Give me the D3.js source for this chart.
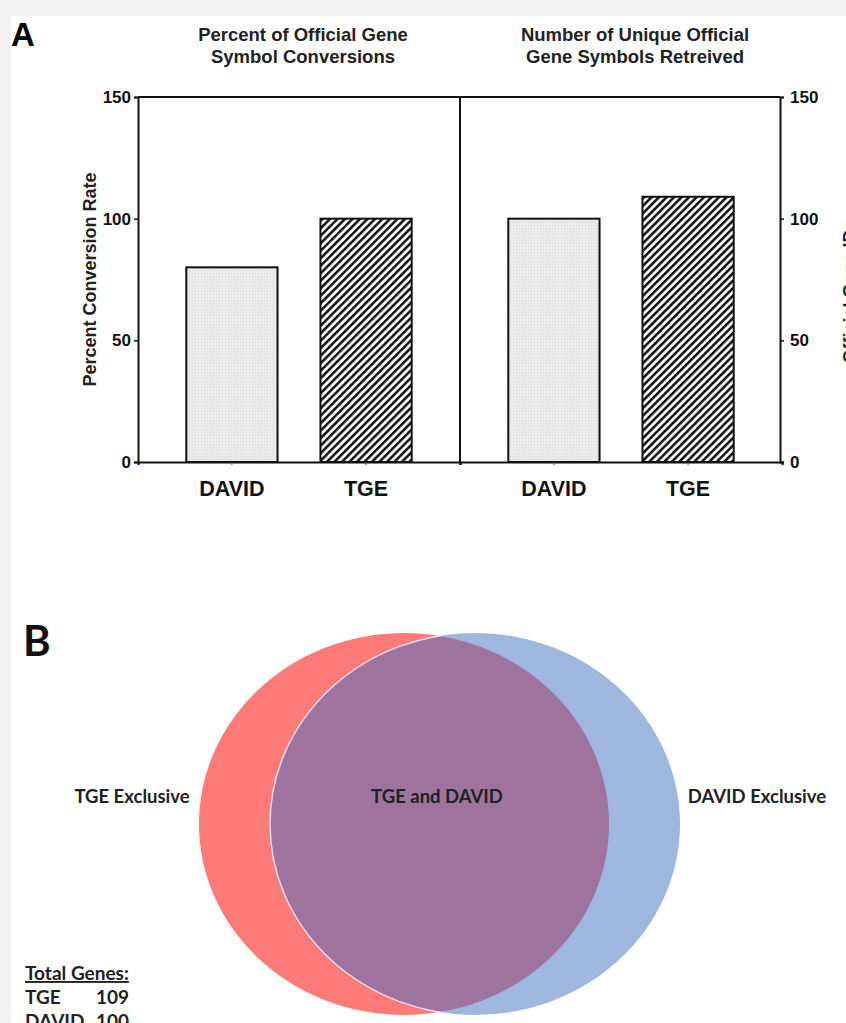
<!DOCTYPE html>
<html>
<head>
<meta charset="utf-8">
<script src="https://cdn.jsdelivr.net/npm/d3@7"></script>
<style>
  body { margin: 0; background: #f2f2f2; }
  svg { display: block; }
</style>
</head>
<body>
<script>
// chart data
var categories = ["DAVID", "TGE"];
var percentConversion = [80, 100];     // left panel, % conversion rate
var uniqueSymbols = [100, 109];        // right panel, number of official gene symbols
var yTicks = [0, 50, 100, 150];

var vennSets = ["TGE", "DAVID"];
var vennTotals = [109, 100];
var vennLabels = ["TGE Exclusive", "TGE and DAVID", "DAVID Exclusive"];

var full_width = 846, full_height = 1023;

var svg = d3.select("body").append("svg")
  .attr("width", full_width)
  .attr("height", full_height);

// white sheet
svg.append("rect")
  .attr("x", 11).attr("y", 16)
  .attr("width", full_width - 11).attr("height", full_height - 16)
  .attr("fill", "#fff");

var defs = svg.append("defs");

// light dotted fill for DAVID
var dots = defs.append("pattern")
  .attr("id", "dots")
  .attr("patternUnits", "userSpaceOnUse")
  .attr("width", 3).attr("height", 3);
dots.append("rect").attr("width", 3).attr("height", 3).attr("fill", "#ebebeb");
dots.append("rect").attr("width", 1).attr("height", 1).attr("fill", "#d6d6d6");

// diagonal hatch for TGE
var hatch = defs.append("pattern")
  .attr("id", "hatch")
  .attr("patternUnits", "userSpaceOnUse")
  .attr("width", 5.3).attr("height", 10)
  .attr("patternTransform", "rotate(45)");
hatch.append("rect").attr("width", 5.3).attr("height", 10).attr("fill", "#fff");
hatch.append("rect").attr("width", 2.5).attr("height", 10).attr("fill", "#111");

var fills = {"DAVID": "url(#dots)", "TGE": "url(#hatch)"};

// ---------- Panel A ----------
var fontA = "'Liberation Sans', Arial, sans-serif";
var plotTop = 97, plotBottom = 462;
var leftX = 138, midX = 460, rightX = 780;

var y = d3.scaleLinear().domain([0, 150]).range([plotBottom, plotTop]);

var xLeft = d3.scaleBand().domain(categories).range([leftX, midX])
  .paddingInner(0.32).paddingOuter(0.36);
var xRight = d3.scaleBand().domain(categories).range([midX, rightX + 2])
  .paddingInner(0.32).paddingOuter(0.36);

var panelA = svg.append("g").style("font-family", fontA);

panelA.append("text")
  .attr("x", 11).attr("y", 46)
  .style("font-size", "33px").style("font-weight", "700")
  .text("A");

// titles
var titles = [
  {x: 303, lines: ["Percent of Official Gene", "Symbol Conversions"]},
  {x: 635, lines: ["Number of Unique Official", "Gene Symbols Retreived"]}
];
titles.forEach(function(t) {
  var txt = panelA.append("text")
    .attr("text-anchor", "middle")
    .style("font-size", "18.5px").style("font-weight", "700").attr("fill", "#222");
  t.lines.forEach(function(l, i) {
    txt.append("tspan").attr("x", t.x).attr("y", 41 + i * 22).text(l);
  });
});

// bars
function drawBars(xs, values) {
  panelA.selectAll(null)
    .data(categories)
    .enter().append("rect")
    .attr("x", function(d) { return xs(d); })
    .attr("y", function(d, i) { return y(values[i]); })
    .attr("width", xs.bandwidth())
    .attr("height", function(d, i) { return plotBottom - y(values[i]); })
    .attr("fill", function(d) { return fills[d]; })
    .attr("stroke", "#111")
    .attr("stroke-width", 2);
}
drawBars(xLeft, percentConversion);
drawBars(xRight, uniqueSymbols);

// frame lines
var frame = panelA.append("g").attr("stroke", "#111").attr("stroke-width", 2).attr("fill", "none");
frame.append("line").attr("x1", leftX).attr("x2", rightX).attr("y1", plotTop).attr("y2", plotTop);
frame.append("line").attr("x1", midX).attr("x2", midX).attr("y1", plotTop).attr("y2", plotBottom);

// left axis
var yAxisL = panelA.append("g")
  .attr("transform", "translate(" + leftX + ",0)")
  .call(d3.axisLeft(y).tickValues(yTicks).tickSizeOuter(0).tickSize(4).tickPadding(3));
// right axis
var yAxisR = panelA.append("g")
  .attr("transform", "translate(" + rightX + ",0)")
  .call(d3.axisRight(y).tickValues(yTicks).tickSizeOuter(0).tickSize(4).tickPadding(6));
// bottom axes
var xAxisL = panelA.append("g")
  .attr("transform", "translate(0," + plotBottom + ")")
  .call(d3.axisBottom(xLeft).tickSizeOuter(0).tickSize(3).tickPadding(16));
var xAxisR = panelA.append("g")
  .attr("transform", "translate(0," + plotBottom + ")")
  .call(d3.axisBottom(xRight).tickSizeOuter(0).tickSize(3).tickPadding(16));

[yAxisL, yAxisR].forEach(function(a) {
  a.select(".domain").attr("stroke", "#111").attr("stroke-width", 2);
  a.selectAll(".tick line").attr("stroke", "#111").attr("stroke-width", 1.5);
  a.selectAll(".tick text")
    .style("font-family", fontA).style("font-size", "17px").style("font-weight", "700").attr("fill", "#111");
});
[xAxisL, xAxisR].forEach(function(a) {
  a.select(".domain").attr("stroke", "#111").attr("stroke-width", 2);
  a.selectAll(".tick line").attr("stroke", "#555").attr("stroke-width", 1);
  a.selectAll(".tick text")
    .style("font-family", fontA).style("font-size", "21.5px").style("font-weight", "700").attr("fill", "#111");
});

// axis titles
panelA.append("text")
  .attr("transform", "translate(96," + (plotTop + plotBottom) / 2 + ") rotate(-90)")
  .attr("text-anchor", "middle")
  .style("font-size", "18px").style("font-weight", "700").attr("fill", "#222")
  .text("Percent Conversion Rate");
panelA.append("text")
  .attr("transform", "translate(856," + ((plotTop + plotBottom) / 2 + 12) + ") rotate(-90)")
  .attr("text-anchor", "middle")
  .style("font-size", "18px").style("font-weight", "700").attr("fill", "#222")
  .text("Official Gene IDs");

// ---------- Panel B ----------
var fontB = "Lato, 'Open Sans', sans-serif";
var panelB = svg.append("g").style("font-family", fontB);

panelB.append("text")
  .attr("x", 23).attr("y", 656)
  .style("font-size", "42px").style("font-weight", "700").attr("fill", "#111")
  .text("B");

var vennCy = 824, rx = 205, ry = 191;
var vx = d3.scaleOrdinal().domain(vennSets).range([404, 475]);
var vcol = d3.scaleOrdinal().domain(vennSets).range(["#fc7b79", "#9fb6df"]);

panelB.selectAll("ellipse.set")
  .data(vennSets)
  .enter().append("ellipse")
  .attr("class", "set")
  .attr("cx", function(d) { return vx(d); })
  .attr("cy", vennCy)
  .attr("rx", rx).attr("ry", ry)
  .attr("fill", function(d) { return vcol(d); });

defs.append("clipPath").attr("id", "clipTGE")
  .append("ellipse")
  .attr("cx", vx("TGE")).attr("cy", vennCy).attr("rx", rx).attr("ry", ry);

panelB.append("ellipse")
  .attr("cx", vx("DAVID")).attr("cy", vennCy).attr("rx", rx).attr("ry", ry)
  .attr("clip-path", "url(#clipTGE)")
  .attr("fill", "#9e749f")
  .attr("stroke", "#e8dcef").attr("stroke-width", 1.5);

var labelX = [132, 437, 757];
panelB.selectAll("text.vlab")
  .data(vennLabels)
  .enter().append("text")
  .attr("class", "vlab")
  .attr("x", function(d, i) { return labelX[i]; })
  .attr("y", 803)
  .attr("text-anchor", "middle")
  .style("font-size", "18.5px").style("font-weight", "700").attr("fill", "#222")
  .text(function(d) { return d; });

// totals table
panelB.append("text")
  .attr("x", 25).attr("y", 980)
  .style("font-size", "19px").style("font-weight", "700").attr("fill", "#222")
  .style("text-decoration", "underline")
  .text("Total Genes:");
var rows = panelB.selectAll("g.row")
  .data(vennSets)
  .enter().append("g")
  .attr("class", "row")
  .attr("transform", function(d, i) { return "translate(0," + (1004 + i * 24) + ")"; });
rows.append("text").attr("x", 25)
  .style("font-size", "19px").style("font-weight", "700").attr("fill", "#222")
  .text(function(d) { return d; });
rows.append("text").attr("x", 129).attr("text-anchor", "end")
  .style("font-size", "19px").style("font-weight", "700").attr("fill", "#222")
  .text(function(d, i) { return vennTotals[i]; });
</script>
</body>
</html>
